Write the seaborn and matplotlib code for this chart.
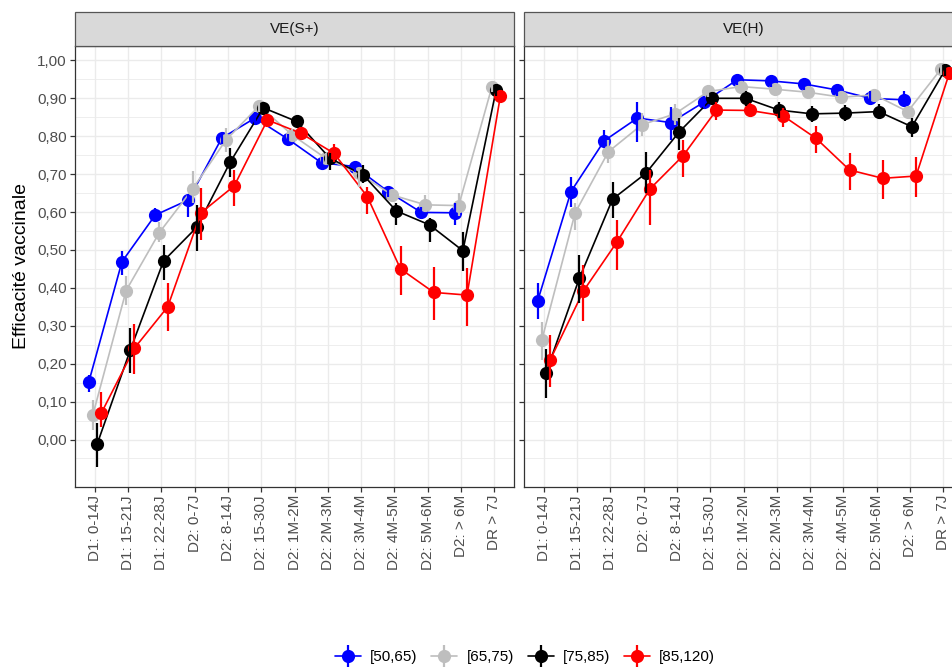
import numpy as np
import pandas as pd
import matplotlib
matplotlib.use("Agg")
import matplotlib.pyplot as plt
from matplotlib.lines import Line2D
from matplotlib.patches import Rectangle
from matplotlib.legend_handler import HandlerTuple
from matplotlib.ticker import FixedLocator, FuncFormatter
import seaborn as sns

# ---- data -------------------------------------------------------------
categories = ["D1: 0-14J", "D1: 15-21J", "D1: 22-28J", "D2: 0-7J", "D2: 8-14J",
              "D2: 15-30J", "D2: 1M-2M", "D2: 2M-3M", "D2: 3M-4M", "D2: 4M-5M",
              "D2: 5M-6M", "D2: > 6M", "DR > 7J"]
age_groups = ["[50,65)", "[65,75)", "[75,85)", "[85,120)"]
panels = ["VE(S+)", "VE(H)"]
nan = np.nan

# VE(S+)
ves_50 = [0.151, 0.469, 0.592, 0.632, 0.795, 0.848, 0.792, 0.730, 0.720, 0.654, 0.599, 0.598, nan]
ves_50_lo = [0.124, 0.434, 0.575, 0.588, 0.780, 0.833, 0.777, 0.715, 0.705, 0.639, 0.584, 0.566, nan]
ves_50_hi = [0.170, 0.497, 0.610, 0.648, 0.808, 0.863, 0.807, 0.745, 0.735, 0.669, 0.614, 0.625, nan]
ves_65 = [0.065, 0.393, 0.546, 0.661, 0.790, 0.880, 0.803, 0.742, 0.702, 0.645, 0.619, 0.617, 0.931]
ves_65_lo = [0.025, 0.355, 0.520, 0.624, 0.759, 0.865, 0.788, 0.727, 0.667, 0.630, 0.600, 0.590, 0.916]
ves_65_hi = [0.104, 0.431, 0.575, 0.707, 0.821, 0.895, 0.818, 0.757, 0.717, 0.660, 0.645, 0.650, 0.946]
ves_75 = [-0.013, 0.236, 0.471, 0.560, 0.731, 0.875, 0.839, 0.742, 0.698, 0.603, 0.566, 0.498, 0.922]
ves_75_lo = [-0.072, 0.175, 0.421, 0.496, 0.692, 0.860, 0.824, 0.711, 0.676, 0.566, 0.522, 0.445, 0.907]
ves_75_hi = [0.043, 0.293, 0.513, 0.619, 0.768, 0.890, 0.854, 0.757, 0.724, 0.623, 0.584, 0.548, 0.937]
ves_85 = [0.069, 0.241, 0.350, 0.598, 0.669, 0.843, 0.808, 0.755, 0.641, 0.450, 0.388, 0.381, 0.905]
ves_85_lo = [0.034, 0.173, 0.287, 0.526, 0.616, 0.828, 0.793, 0.733, 0.595, 0.381, 0.315, 0.300, 0.890]
ves_85_hi = [0.126, 0.305, 0.412, 0.663, 0.711, 0.858, 0.823, 0.780, 0.667, 0.510, 0.454, 0.452, 0.920]

# VE(H)
veh_50 = [0.366, 0.654, 0.788, 0.848, 0.836, 0.890, 0.949, 0.946, 0.938, 0.922, 0.900, 0.896, nan]
veh_50_lo = [0.318, 0.614, 0.770, 0.786, 0.790, 0.875, 0.934, 0.931, 0.923, 0.907, 0.882, 0.878, nan]
veh_50_hi = [0.412, 0.693, 0.817, 0.891, 0.878, 0.905, 0.964, 0.961, 0.953, 0.937, 0.920, 0.918, nan]
veh_65 = [0.263, 0.598, 0.759, 0.830, 0.859, 0.918, 0.931, 0.924, 0.916, 0.903, 0.909, 0.865, 0.977]
veh_65_lo = [0.210, 0.553, 0.730, 0.800, 0.830, 0.903, 0.916, 0.909, 0.901, 0.888, 0.894, 0.850, 0.962]
veh_65_hi = [0.311, 0.625, 0.790, 0.860, 0.885, 0.933, 0.946, 0.939, 0.931, 0.918, 0.924, 0.880, 0.992]
veh_75 = [0.176, 0.425, 0.634, 0.702, 0.811, 0.900, 0.900, 0.869, 0.859, 0.861, 0.865, 0.825, 0.975]
veh_75_lo = [0.109, 0.359, 0.584, 0.650, 0.764, 0.885, 0.880, 0.849, 0.838, 0.840, 0.845, 0.799, 0.960]
veh_75_hi = [0.238, 0.487, 0.680, 0.759, 0.848, 0.915, 0.920, 0.889, 0.880, 0.882, 0.885, 0.848, 0.990]
veh_85 = [0.210, 0.392, 0.520, 0.661, 0.749, 0.869, 0.868, 0.854, 0.794, 0.711, 0.689, 0.695, 0.966]
veh_85_lo = [0.139, 0.313, 0.447, 0.566, 0.693, 0.843, 0.850, 0.824, 0.755, 0.658, 0.634, 0.641, 0.951]
veh_85_hi = [0.276, 0.460, 0.579, 0.711, 0.790, 0.891, 0.888, 0.874, 0.827, 0.755, 0.736, 0.745, 0.981]

series = {
    "VE(S+)": [(ves_50, ves_50_lo, ves_50_hi), (ves_65, ves_65_lo, ves_65_hi),
               (ves_75, ves_75_lo, ves_75_hi), (ves_85, ves_85_lo, ves_85_hi)],
    "VE(H)": [(veh_50, veh_50_lo, veh_50_hi), (veh_65, veh_65_lo, veh_65_hi),
              (veh_75, veh_75_lo, veh_75_hi), (veh_85, veh_85_lo, veh_85_hi)],
}

colors = ["#0000FF", "#BEBEBE", "#000000", "#FF0000"]
palette = dict(zip(age_groups, colors))

# long table
rows = []
for panel in panels:
    for g, (est, lo, hi) in zip(age_groups, series[panel]):
        for i, cat in enumerate(categories):
            rows.append(dict(panel=panel, age=g, cat=cat, idx=i,
                             ve=est[i], lo=lo[i], hi=hi[i]))
df = pd.DataFrame(rows).dropna(subset=["ve"])

# dodge offsets (total width 0.5 shared by the four groups)
dodge_w = 0.5
offsets = {g: (k - 1.5) * dodge_w / 4 for k, g in enumerate(age_groups)}
df["x"] = df["idx"] + df["age"].map(offsets)

# ---- figure -----------------------------------------------------------
sns.set_theme(style="whitegrid")
plt.rcParams["font.family"] = ["Liberation Sans", "DejaVu Sans"]

W, H = 952, 668
fig = plt.figure(figsize=(W / 100, H / 100), dpi=100)
fig.patch.set_facecolor("white")

panel_px = [(75, 46, 439, 440.7), (524, 46, 439, 440.7)]
axes = []
for (px, py, pw, ph) in panel_px:
    ax = fig.add_axes([px / W, 1 - (py + ph) / H, pw / W, ph / H])
    axes.append(ax)

grid_col = "#EBEBEB"
for ax, panel in zip(axes, panels):
    sub = df[df["panel"] == panel]
    sns.lineplot(data=sub, x="x", y="ve", hue="age", hue_order=age_groups,
                 palette=palette, marker="o", markersize=9.5, markeredgewidth=0,
                 linewidth=1.2, estimator=None, sort=True, legend=False, ax=ax,
                 zorder=3)
    for g in age_groups:
        s = sub[sub["age"] == g]
        ax.vlines(s["x"], s["lo"], s["hi"], colors=palette[g], linewidth=1.6,
                  zorder=3)

    ax.set_xlim(-0.6, len(categories) - 1 + 0.6)
    ax.set_ylim(-0.1245, 1.038)
    ax.set_facecolor("white")
    ax.xaxis.set_major_locator(FixedLocator(range(len(categories))))
    ax.set_xticklabels(categories, rotation=90, fontsize=11, color="#4D4D4D")
    ax.yaxis.set_major_locator(FixedLocator(np.arange(0, 1.01, 0.1)))
    ax.yaxis.set_minor_locator(FixedLocator(np.arange(-0.05, 1.04, 0.1)))
    ax.yaxis.set_major_formatter(FuncFormatter(lambda v, p: f"{v:.2f}".replace(".", ",")))
    ax.tick_params(axis="both", which="major", length=3.5, width=0.9,
                   color="#333333", labelsize=11, labelcolor="#4D4D4D", pad=2.5)
    ax.tick_params(axis="y", which="minor", length=0)
    ax.grid(which="major", color=grid_col, linewidth=1.0)
    ax.grid(which="minor", axis="y", color=grid_col, linewidth=0.6)
    ax.tick_params(axis="x", bottom=True)
    ax.tick_params(axis="y", left=True)
    for sp in ax.spines.values():
        sp.set_color("#333333")
        sp.set_linewidth(0.9)
    ax.set_xlabel("")
    ax.set_ylabel("")

    # facet strip
    strip_h = 34 / 440.7
    ax.add_patch(Rectangle((0, 1), 1, strip_h, transform=ax.transAxes,
                           facecolor="#D9D9D9", edgecolor="#555555",
                           linewidth=0.9, clip_on=False, zorder=5))
    ax.text(0.5, 1 + strip_h / 2, panel, transform=ax.transAxes,
            ha="center", va="center", fontsize=11, color="#1A1A1A", zorder=6)

axes[1].tick_params(axis="y", labelleft=False)
axes[0].set_ylabel("Efficacité vaccinale", fontsize=14, color="black", labelpad=5)

# legend keys: point with a horizontal and a vertical line
handles = []
for c in colors:
    h_line = Line2D([], [], color=c, linewidth=1.2, marker="o", markersize=9.5,
                    markeredgewidth=0)
    v_line = Line2D([], [], color=c, linestyle="none", marker="|",
                    markersize=16, markeredgewidth=1.6)
    handles.append((h_line, v_line))
fig.legend(handles, age_groups, handler_map={tuple: HandlerTuple(ndivide=1, pad=0)},
           loc="center", bbox_to_anchor=(525 / W, 1 - 657 / H), ncol=4,
           frameon=False, fontsize=11, handlelength=1.7, handletextpad=0.6,
           columnspacing=0.9, labelcolor="black")

fig.savefig("out.png", dpi=100)
